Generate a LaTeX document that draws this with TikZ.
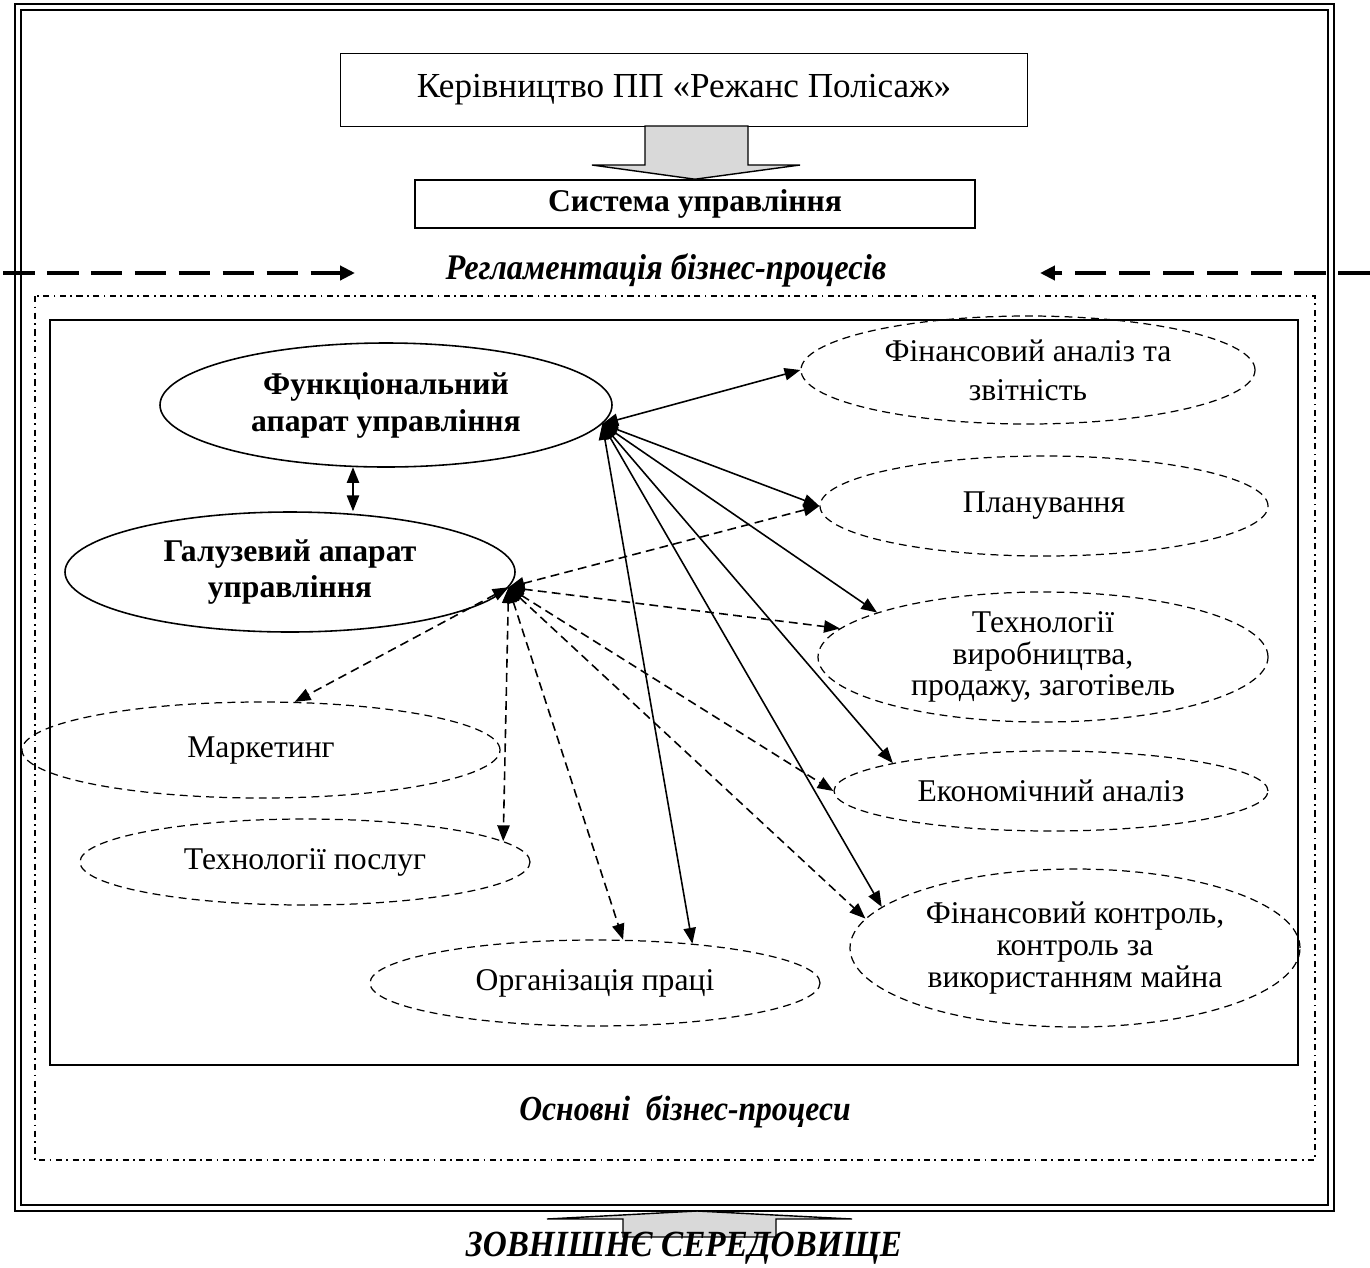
\documentclass[tikz,border=0pt]{standalone}
\usepackage{fontspec}
\setmainfont{Liberation Serif}
\newfontfamily\condserif[FakeStretch=0.9]{Liberation Serif}
\usetikzlibrary{shapes.geometric,arrows.meta}

\begin{document}
\begin{tikzpicture}[x=0.2mm,y=-0.2mm,
  box/.style={draw=black, line width=0.9pt, inner sep=0pt},
  solidell/.style={ellipse, draw=black, line width=0.9pt, inner sep=0pt, align=center, font=\fontsize{18}{21}\selectfont\bfseries},
  dashell/.style={ellipse, draw=black, line width=0.7pt, dash pattern=on 4.5pt off 3pt, inner sep=0pt, align=center, font=\fontsize{18}{22}\selectfont},
  link/.style={line width=0.9pt, {Triangle[length=9pt,width=7pt]}-{Triangle[length=9pt,width=7pt]}},
  dlink/.style={link, dash pattern=on 5pt off 3pt},
  bigdash/.style={line width=2.8pt, dash pattern=on 18pt off 7pt, -{Triangle[length=8.5pt,width=8pt]}},
  blockarrow/.style={draw=black, fill=black!15, line width=0.8pt},
  caption/.style={font=\condserif\fontsize{20.5}{24}\selectfont\bfseries\itshape}
]
\useasboundingbox (0,0) rectangle (1370,1267);

% outer double frame
\draw[line width=1pt] (15,4) rectangle (1334,1211);
\draw[line width=1.4pt] (21,10) rectangle (1328,1205);

% top part
\node[box, minimum width=137.4mm, minimum height=14.6mm, font=\fontsize{20}{24}\selectfont] (head) at (684,90) {Керівництво ПП «Режанс Полісаж»};
\node[box, minimum width=112mm, minimum height=9.6mm, font=\fontsize{18}{21}\selectfont\bfseries] (sys) at (695,204) {Система управління};
\draw[blockarrow] (645,126) -- (645,165) -- (592,165) -- (sys.north) -- (800,165) -- (748,165) -- (748,126) -- cycle;

% regulation line
\node[caption] (reg) at (666,270) {Регламентація бізнес-процесів};
\coordinate (regL) at (3,273);
\coordinate (regLtip) at (355,273);
\coordinate (regR) at (1370,273);
\coordinate (regRtip) at (1040,273);
\draw[bigdash] (regL) -- (regLtip);
\draw[bigdash] (regR) -- (regRtip);

% business processes
\draw[line width=0.8pt, dash pattern=on 3.5pt off 2.5pt on 1pt off 2.5pt] (35,296) rectangle (1315,1160);
\draw[line width=1.2pt] (50,320) rectangle (1298,1065);
\node[caption, font=\condserif\fontsize{20}{24}\selectfont\bfseries\itshape] (main) at (685,1112) {Основні\ \ бізнес-процеси};

% management units
\node[solidell, minimum width=90.4mm, minimum height=24.8mm] (fa) at (386,405) {Функціональний\\апарат управління};
\node[solidell, minimum width=90mm, minimum height=24mm] (ga) at (290,572) {Галузевий апарат\\управління};

% processes
\node[dashell, minimum width=90.8mm, minimum height=21.6mm] (fin) at (1028,370) {Фінансовий аналіз та\\звітність};
\node[dashell, minimum width=89.6mm, minimum height=20mm] (plan) at (1044,506) {Планування};
\node[dashell, minimum width=90mm, minimum height=26mm, font=\fontsize{18}{18}\selectfont] (tech) at (1043,657) {Технології\\виробництва,\\продажу, заготівель};
\node[dashell, minimum width=86.8mm, minimum height=16mm] (eco) at (1051,791) {Економічний аналіз};
\node[dashell, minimum width=90mm, minimum height=31.6mm, font=\fontsize{18}{18}\selectfont] (ctrl) at (1075,948) {Фінансовий контроль,\\контроль за\\використанням майна};
\node[dashell, minimum width=95.6mm, minimum height=19.2mm] (mark) at (261,750) {Маркетинг};
\node[dashell, minimum width=90mm, minimum height=17.2mm] (serv) at (305,862) {Технології послуг};
\node[dashell, minimum width=90mm, minimum height=17.2mm] (org) at (595,983) {Організація праці};

% links of the functional apparatus
\draw[link] (fa.-118) -- (fa.-118 |- ga.north);
\draw[link] (fa.-5) -- (fin.west);
\draw[link] (fa.-5) -- (plan.west);
\draw[link] (fa.-5) -- (tech.165);
\draw[link] (fa.-5) -- (eco.170);
\draw[link] (fa.-5) -- (ctrl.168);
\draw[link] (fa.-5) -- (org.22);

% links of the branch apparatus
\draw[dlink] (ga.-4) -- (plan.west);
\draw[dlink] (ga.-4) -- (tech.172);
\draw[dlink] (ga.-4) -- (eco.west);
\draw[dlink] (ga.-4) -- (ctrl.172);
\draw[dlink] (ga.-4) -- (mark.55);
\draw[dlink] (ga.-4) -- (serv.6);
\draw[dlink] (ga.-4) -- (org.57);

% environment
\draw[blockarrow] (623,1237) -- (623,1219) -- (547,1219) -- (697,1211) -- (852,1219) -- (776,1219) -- (776,1237) -- cycle;
\node[caption, font=\condserif\fontsize{21}{24}\selectfont\bfseries\itshape, anchor=base] (env) at (684,1256) {ЗОВНІШНЄ СЕРЕДОВИЩЕ};
\end{tikzpicture}
\end{document}
